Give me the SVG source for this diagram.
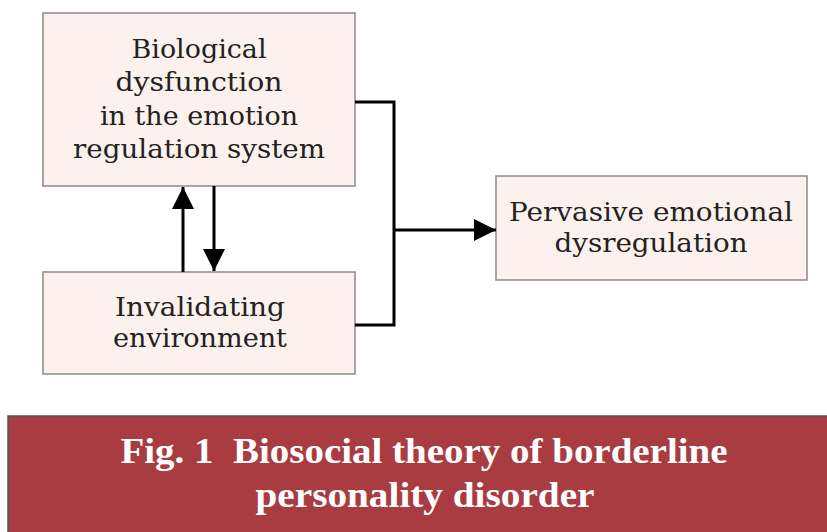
<svg xmlns="http://www.w3.org/2000/svg" width="827" height="532" viewBox="0 0 827 532">
<defs>
<marker id="ah" viewBox="0 0 10 10" refX="10" refY="5" markerWidth="22" markerHeight="22" markerUnits="userSpaceOnUse" orient="auto"><path d="M0,0 L10,5 L0,10 z" fill="#000"/></marker>
<style>
.box{fill:#fcf1ec;stroke:#8a8a8a;stroke-width:1.5}
.t{font-family:"DejaVu Serif","Liberation Serif",serif;font-size:26px;fill:#222;text-anchor:middle}
.c{fill:none;stroke:#000;stroke-width:3}
.cap{font-family:"Liberation Serif","DejaVu Serif",serif;font-size:35px;font-weight:bold;fill:#fff;text-anchor:middle}
</style>
</defs>
<rect width="827" height="532" fill="#fff"/>
<g id="n1">
<rect class="box" x="43" y="13" width="312" height="173"/>
<text class="t" x="199" y="58" textLength="135" lengthAdjust="spacingAndGlyphs">Biological</text>
<text class="t" x="199" y="91" textLength="167" lengthAdjust="spacingAndGlyphs">dysfunction</text>
<text class="t" x="199" y="125" textLength="198" lengthAdjust="spacingAndGlyphs">in the emotion</text>
<text class="t" x="199" y="158" textLength="252" lengthAdjust="spacingAndGlyphs">regulation system</text>
</g>
<g id="n2">
<rect class="box" x="43" y="272" width="312" height="102"/>
<text class="t" x="200" y="316" textLength="170" lengthAdjust="spacingAndGlyphs">Invalidating</text>
<text class="t" x="200" y="347" textLength="174" lengthAdjust="spacingAndGlyphs">environment</text>
</g>
<g id="n3">
<rect class="box" x="496" y="176" width="311" height="104"/>
<text class="t" x="651" y="221" textLength="284" lengthAdjust="spacingAndGlyphs">Pervasive emotional</text>
<text class="t" x="651" y="252" textLength="193" lengthAdjust="spacingAndGlyphs">dysregulation</text>
</g>
<g id="connectors">
<polyline class="c" points="355,102 394,102 394,325 355,325"/>
<line class="c" x1="394" y1="230" x2="496" y2="230" marker-end="url(#ah)"/>
<line class="c" x1="183" y1="272" x2="183" y2="187" marker-end="url(#ah)"/>
<line class="c" x1="214" y1="186" x2="214" y2="271" marker-end="url(#ah)"/>
</g>
<g id="caption">
<rect x="8" y="416" width="830" height="125" fill="#a83c40" stroke="#555" stroke-width="1.5"/>
<text class="cap" x="424" y="463" textLength="607" lengthAdjust="spacingAndGlyphs" xml:space="preserve">Fig. 1  Biosocial theory of borderline</text>
<text class="cap" x="425" y="507" textLength="339" lengthAdjust="spacingAndGlyphs">personality disorder</text>
</g>
</svg>
